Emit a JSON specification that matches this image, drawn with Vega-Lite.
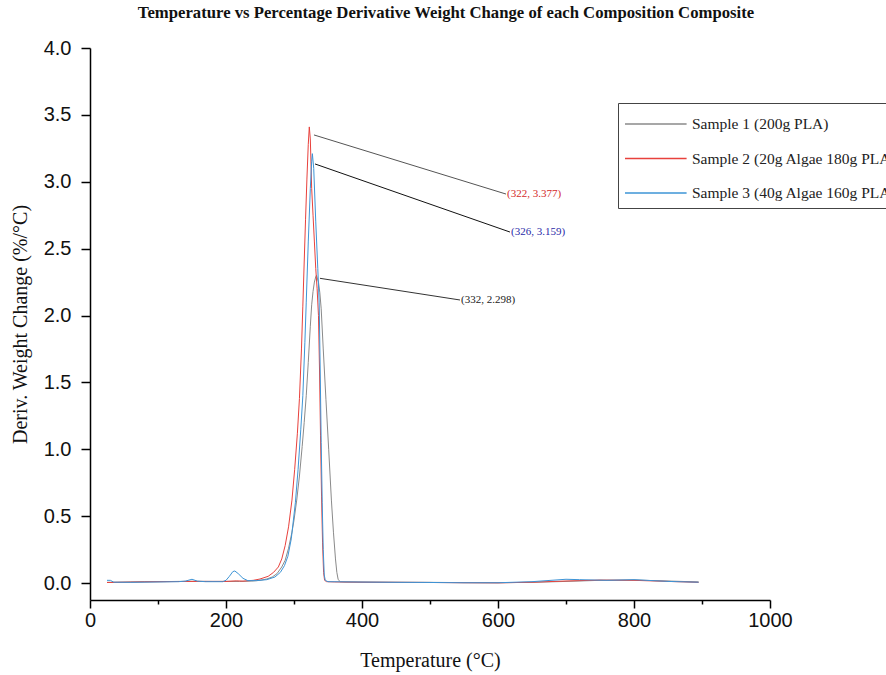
{
  "$schema": "https://vega.github.io/schema/vega-lite/v6.json",
  "autosize": {"type": "none"},
  "width": 680,
  "height": 552,
  "padding": {"left": 90, "top": 48, "right": 116, "bottom": 75},
  "background": "white",
  "config": {"view": {"stroke": null}},
  "title": {
    "text": "Temperature vs Percentage Derivative Weight Change of each Composition Composite",
    "font": "Liberation Serif", "fontWeight": "bold", "fontSize": 16.7, "color": "#111",
    "anchor": "middle", "frame": "group", "offset": 16, "dx": 16
  },
  "datasets": {
    "curves": [
      {"s": "Sample 1 (200g PLA)", "t": 25, "v": 0.005},
      {"s": "Sample 1 (200g PLA)", "t": 40, "v": 0.006},
      {"s": "Sample 1 (200g PLA)", "t": 60, "v": 0.008},
      {"s": "Sample 1 (200g PLA)", "t": 80, "v": 0.01},
      {"s": "Sample 1 (200g PLA)", "t": 100, "v": 0.01},
      {"s": "Sample 1 (200g PLA)", "t": 130, "v": 0.012},
      {"s": "Sample 1 (200g PLA)", "t": 150, "v": 0.013},
      {"s": "Sample 1 (200g PLA)", "t": 180, "v": 0.012},
      {"s": "Sample 1 (200g PLA)", "t": 200, "v": 0.012},
      {"s": "Sample 1 (200g PLA)", "t": 220, "v": 0.012},
      {"s": "Sample 1 (200g PLA)", "t": 240, "v": 0.015},
      {"s": "Sample 1 (200g PLA)", "t": 250, "v": 0.02},
      {"s": "Sample 1 (200g PLA)", "t": 260, "v": 0.03},
      {"s": "Sample 1 (200g PLA)", "t": 268, "v": 0.045},
      {"s": "Sample 1 (200g PLA)", "t": 275, "v": 0.07},
      {"s": "Sample 1 (200g PLA)", "t": 282, "v": 0.12},
      {"s": "Sample 1 (200g PLA)", "t": 287, "v": 0.17},
      {"s": "Sample 1 (200g PLA)", "t": 292, "v": 0.26},
      {"s": "Sample 1 (200g PLA)", "t": 297, "v": 0.38},
      {"s": "Sample 1 (200g PLA)", "t": 300, "v": 0.47},
      {"s": "Sample 1 (200g PLA)", "t": 304, "v": 0.62},
      {"s": "Sample 1 (200g PLA)", "t": 308, "v": 0.8},
      {"s": "Sample 1 (200g PLA)", "t": 312, "v": 1.02},
      {"s": "Sample 1 (200g PLA)", "t": 315, "v": 1.2},
      {"s": "Sample 1 (200g PLA)", "t": 318, "v": 1.4},
      {"s": "Sample 1 (200g PLA)", "t": 321, "v": 1.65},
      {"s": "Sample 1 (200g PLA)", "t": 324, "v": 1.92},
      {"s": "Sample 1 (200g PLA)", "t": 326, "v": 2.08},
      {"s": "Sample 1 (200g PLA)", "t": 328, "v": 2.18},
      {"s": "Sample 1 (200g PLA)", "t": 330, "v": 2.25},
      {"s": "Sample 1 (200g PLA)", "t": 332, "v": 2.29},
      {"s": "Sample 1 (200g PLA)", "t": 333, "v": 2.3},
      {"s": "Sample 1 (200g PLA)", "t": 336, "v": 2.25},
      {"s": "Sample 1 (200g PLA)", "t": 338, "v": 2.17},
      {"s": "Sample 1 (200g PLA)", "t": 340, "v": 2.05},
      {"s": "Sample 1 (200g PLA)", "t": 343, "v": 1.75},
      {"s": "Sample 1 (200g PLA)", "t": 347, "v": 1.37},
      {"s": "Sample 1 (200g PLA)", "t": 351, "v": 1.0},
      {"s": "Sample 1 (200g PLA)", "t": 355, "v": 0.62},
      {"s": "Sample 1 (200g PLA)", "t": 358, "v": 0.38},
      {"s": "Sample 1 (200g PLA)", "t": 361, "v": 0.18},
      {"s": "Sample 1 (200g PLA)", "t": 363, "v": 0.08},
      {"s": "Sample 1 (200g PLA)", "t": 365, "v": 0.025},
      {"s": "Sample 1 (200g PLA)", "t": 368, "v": 0.01},
      {"s": "Sample 1 (200g PLA)", "t": 375, "v": 0.008},
      {"s": "Sample 1 (200g PLA)", "t": 400, "v": 0.007},
      {"s": "Sample 1 (200g PLA)", "t": 450, "v": 0.006},
      {"s": "Sample 1 (200g PLA)", "t": 500, "v": 0.005},
      {"s": "Sample 1 (200g PLA)", "t": 550, "v": 0.003},
      {"s": "Sample 1 (200g PLA)", "t": 600, "v": 0.002},
      {"s": "Sample 1 (200g PLA)", "t": 650, "v": 0.005},
      {"s": "Sample 1 (200g PLA)", "t": 700, "v": 0.012},
      {"s": "Sample 1 (200g PLA)", "t": 750, "v": 0.02},
      {"s": "Sample 1 (200g PLA)", "t": 800, "v": 0.022},
      {"s": "Sample 1 (200g PLA)", "t": 850, "v": 0.015},
      {"s": "Sample 1 (200g PLA)", "t": 895, "v": 0.008},

      {"s": "Sample 2 (20g Algae 180g PLA)", "t": 25, "v": 0.004},
      {"s": "Sample 2 (20g Algae 180g PLA)", "t": 50, "v": 0.006},
      {"s": "Sample 2 (20g Algae 180g PLA)", "t": 100, "v": 0.01},
      {"s": "Sample 2 (20g Algae 180g PLA)", "t": 150, "v": 0.012},
      {"s": "Sample 2 (20g Algae 180g PLA)", "t": 200, "v": 0.012},
      {"s": "Sample 2 (20g Algae 180g PLA)", "t": 215, "v": 0.016},
      {"s": "Sample 2 (20g Algae 180g PLA)", "t": 225, "v": 0.014},
      {"s": "Sample 2 (20g Algae 180g PLA)", "t": 240, "v": 0.02},
      {"s": "Sample 2 (20g Algae 180g PLA)", "t": 250, "v": 0.03},
      {"s": "Sample 2 (20g Algae 180g PLA)", "t": 262, "v": 0.05},
      {"s": "Sample 2 (20g Algae 180g PLA)", "t": 270, "v": 0.08},
      {"s": "Sample 2 (20g Algae 180g PLA)", "t": 277, "v": 0.12},
      {"s": "Sample 2 (20g Algae 180g PLA)", "t": 282, "v": 0.18},
      {"s": "Sample 2 (20g Algae 180g PLA)", "t": 287, "v": 0.28},
      {"s": "Sample 2 (20g Algae 180g PLA)", "t": 292, "v": 0.42},
      {"s": "Sample 2 (20g Algae 180g PLA)", "t": 297, "v": 0.62},
      {"s": "Sample 2 (20g Algae 180g PLA)", "t": 301, "v": 0.85},
      {"s": "Sample 2 (20g Algae 180g PLA)", "t": 305, "v": 1.12},
      {"s": "Sample 2 (20g Algae 180g PLA)", "t": 308, "v": 1.38},
      {"s": "Sample 2 (20g Algae 180g PLA)", "t": 311, "v": 1.75},
      {"s": "Sample 2 (20g Algae 180g PLA)", "t": 313, "v": 2.07},
      {"s": "Sample 2 (20g Algae 180g PLA)", "t": 315, "v": 2.4},
      {"s": "Sample 2 (20g Algae 180g PLA)", "t": 317, "v": 2.72},
      {"s": "Sample 2 (20g Algae 180g PLA)", "t": 319, "v": 3.02},
      {"s": "Sample 2 (20g Algae 180g PLA)", "t": 321, "v": 3.28},
      {"s": "Sample 2 (20g Algae 180g PLA)", "t": 322.5, "v": 3.41},
      {"s": "Sample 2 (20g Algae 180g PLA)", "t": 324, "v": 3.32},
      {"s": "Sample 2 (20g Algae 180g PLA)", "t": 326, "v": 2.95},
      {"s": "Sample 2 (20g Algae 180g PLA)", "t": 328, "v": 2.75},
      {"s": "Sample 2 (20g Algae 180g PLA)", "t": 330, "v": 2.55},
      {"s": "Sample 2 (20g Algae 180g PLA)", "t": 332, "v": 2.35},
      {"s": "Sample 2 (20g Algae 180g PLA)", "t": 334, "v": 2.2},
      {"s": "Sample 2 (20g Algae 180g PLA)", "t": 336, "v": 2.0},
      {"s": "Sample 2 (20g Algae 180g PLA)", "t": 337.5, "v": 1.6},
      {"s": "Sample 2 (20g Algae 180g PLA)", "t": 339, "v": 1.1},
      {"s": "Sample 2 (20g Algae 180g PLA)", "t": 340.5, "v": 0.65},
      {"s": "Sample 2 (20g Algae 180g PLA)", "t": 342, "v": 0.3},
      {"s": "Sample 2 (20g Algae 180g PLA)", "t": 343.5, "v": 0.08},
      {"s": "Sample 2 (20g Algae 180g PLA)", "t": 345, "v": 0.02},
      {"s": "Sample 2 (20g Algae 180g PLA)", "t": 348, "v": 0.01},
      {"s": "Sample 2 (20g Algae 180g PLA)", "t": 360, "v": 0.008},
      {"s": "Sample 2 (20g Algae 180g PLA)", "t": 400, "v": 0.006},
      {"s": "Sample 2 (20g Algae 180g PLA)", "t": 450, "v": 0.005},
      {"s": "Sample 2 (20g Algae 180g PLA)", "t": 500, "v": 0.004},
      {"s": "Sample 2 (20g Algae 180g PLA)", "t": 550, "v": 0.002},
      {"s": "Sample 2 (20g Algae 180g PLA)", "t": 600, "v": 0.001},
      {"s": "Sample 2 (20g Algae 180g PLA)", "t": 650, "v": 0.006},
      {"s": "Sample 2 (20g Algae 180g PLA)", "t": 700, "v": 0.015},
      {"s": "Sample 2 (20g Algae 180g PLA)", "t": 750, "v": 0.022},
      {"s": "Sample 2 (20g Algae 180g PLA)", "t": 800, "v": 0.02},
      {"s": "Sample 2 (20g Algae 180g PLA)", "t": 850, "v": 0.012},
      {"s": "Sample 2 (20g Algae 180g PLA)", "t": 895, "v": 0.005},

      {"s": "Sample 3 (40g Algae 160g PLA)", "t": 25, "v": 0.02},
      {"s": "Sample 3 (40g Algae 160g PLA)", "t": 30, "v": 0.02},
      {"s": "Sample 3 (40g Algae 160g PLA)", "t": 35, "v": 0.006},
      {"s": "Sample 3 (40g Algae 160g PLA)", "t": 60, "v": 0.005},
      {"s": "Sample 3 (40g Algae 160g PLA)", "t": 100, "v": 0.008},
      {"s": "Sample 3 (40g Algae 160g PLA)", "t": 130, "v": 0.01},
      {"s": "Sample 3 (40g Algae 160g PLA)", "t": 140, "v": 0.014},
      {"s": "Sample 3 (40g Algae 160g PLA)", "t": 150, "v": 0.028},
      {"s": "Sample 3 (40g Algae 160g PLA)", "t": 158, "v": 0.014},
      {"s": "Sample 3 (40g Algae 160g PLA)", "t": 170, "v": 0.01},
      {"s": "Sample 3 (40g Algae 160g PLA)", "t": 195, "v": 0.01},
      {"s": "Sample 3 (40g Algae 160g PLA)", "t": 200, "v": 0.02},
      {"s": "Sample 3 (40g Algae 160g PLA)", "t": 205, "v": 0.05},
      {"s": "Sample 3 (40g Algae 160g PLA)", "t": 210, "v": 0.085},
      {"s": "Sample 3 (40g Algae 160g PLA)", "t": 213, "v": 0.09},
      {"s": "Sample 3 (40g Algae 160g PLA)", "t": 218, "v": 0.07},
      {"s": "Sample 3 (40g Algae 160g PLA)", "t": 225, "v": 0.035},
      {"s": "Sample 3 (40g Algae 160g PLA)", "t": 232, "v": 0.018},
      {"s": "Sample 3 (40g Algae 160g PLA)", "t": 245, "v": 0.018},
      {"s": "Sample 3 (40g Algae 160g PLA)", "t": 260, "v": 0.025},
      {"s": "Sample 3 (40g Algae 160g PLA)", "t": 272, "v": 0.045},
      {"s": "Sample 3 (40g Algae 160g PLA)", "t": 280, "v": 0.08},
      {"s": "Sample 3 (40g Algae 160g PLA)", "t": 286, "v": 0.13},
      {"s": "Sample 3 (40g Algae 160g PLA)", "t": 291, "v": 0.2},
      {"s": "Sample 3 (40g Algae 160g PLA)", "t": 296, "v": 0.33},
      {"s": "Sample 3 (40g Algae 160g PLA)", "t": 302, "v": 0.6},
      {"s": "Sample 3 (40g Algae 160g PLA)", "t": 306, "v": 0.85},
      {"s": "Sample 3 (40g Algae 160g PLA)", "t": 310, "v": 1.15},
      {"s": "Sample 3 (40g Algae 160g PLA)", "t": 313, "v": 1.4},
      {"s": "Sample 3 (40g Algae 160g PLA)", "t": 316, "v": 1.8},
      {"s": "Sample 3 (40g Algae 160g PLA)", "t": 318, "v": 2.1},
      {"s": "Sample 3 (40g Algae 160g PLA)", "t": 321, "v": 2.55},
      {"s": "Sample 3 (40g Algae 160g PLA)", "t": 324, "v": 2.95},
      {"s": "Sample 3 (40g Algae 160g PLA)", "t": 326, "v": 3.15},
      {"s": "Sample 3 (40g Algae 160g PLA)", "t": 327, "v": 3.21},
      {"s": "Sample 3 (40g Algae 160g PLA)", "t": 329, "v": 3.1},
      {"s": "Sample 3 (40g Algae 160g PLA)", "t": 332, "v": 2.7},
      {"s": "Sample 3 (40g Algae 160g PLA)", "t": 335, "v": 2.35},
      {"s": "Sample 3 (40g Algae 160g PLA)", "t": 337, "v": 2.1},
      {"s": "Sample 3 (40g Algae 160g PLA)", "t": 338.5, "v": 1.6},
      {"s": "Sample 3 (40g Algae 160g PLA)", "t": 340, "v": 1.05},
      {"s": "Sample 3 (40g Algae 160g PLA)", "t": 341.5, "v": 0.6},
      {"s": "Sample 3 (40g Algae 160g PLA)", "t": 343, "v": 0.25},
      {"s": "Sample 3 (40g Algae 160g PLA)", "t": 344.5, "v": 0.06},
      {"s": "Sample 3 (40g Algae 160g PLA)", "t": 346, "v": 0.02},
      {"s": "Sample 3 (40g Algae 160g PLA)", "t": 350, "v": 0.01},
      {"s": "Sample 3 (40g Algae 160g PLA)", "t": 400, "v": 0.007},
      {"s": "Sample 3 (40g Algae 160g PLA)", "t": 450, "v": 0.005},
      {"s": "Sample 3 (40g Algae 160g PLA)", "t": 500, "v": 0.004},
      {"s": "Sample 3 (40g Algae 160g PLA)", "t": 550, "v": 0.002},
      {"s": "Sample 3 (40g Algae 160g PLA)", "t": 600, "v": 0.002},
      {"s": "Sample 3 (40g Algae 160g PLA)", "t": 650, "v": 0.01},
      {"s": "Sample 3 (40g Algae 160g PLA)", "t": 700, "v": 0.028},
      {"s": "Sample 3 (40g Algae 160g PLA)", "t": 720, "v": 0.025},
      {"s": "Sample 3 (40g Algae 160g PLA)", "t": 760, "v": 0.02},
      {"s": "Sample 3 (40g Algae 160g PLA)", "t": 800, "v": 0.025},
      {"s": "Sample 3 (40g Algae 160g PLA)", "t": 850, "v": 0.012},
      {"s": "Sample 3 (40g Algae 160g PLA)", "t": 895, "v": 0.006}
    ],
    "notes": [
      {"k": "Sample 2", "x1": 329.4, "y1": 3.35, "x2": 611.8, "y2": 2.908, "label": "(322, 3.377)"},
      {"k": "Sample 3", "x1": 330.9, "y1": 3.133, "x2": 617.6, "y2": 2.624, "label": "(326, 3.159)"},
      {"k": "Sample 1", "x1": 338.2, "y1": 2.278, "x2": 544.1, "y2": 2.116, "label": "(332, 2.298)"}
    ]
  },
  "layer": [
    {
      "data": {"name": "curves"},
      "mark": {"type": "line", "strokeWidth": 1, "clip": true},
      "encoding": {
        "x": {
          "field": "t", "type": "quantitative",
          "scale": {"domain": [0, 1000], "nice": false, "zero": false},
          "axis": {
            "title": "Temperature (°C)",
            "titleFont": "Liberation Serif", "titleFontSize": 20, "titleFontWeight": "normal", "titleColor": "#111", "titlePadding": 20,
            "values": [0, 50, 100, 150, 200, 250, 300, 350, 400, 450, 500, 550, 600, 650, 700, 750, 800, 850, 900, 950, 1000],
            "labelExpr": "datum.value % 200 === 0 ? format(datum.value, 'd') : ''",
            "labelFont": "Liberation Sans", "labelFontSize": 20, "labelColor": "#111", "labelPadding": 2,
            "labelOverlap": false, "labelFlush": false,
            "tickSize": {"condition": {"test": "datum.value % 200 === 0", "value": 8}, "value": 4},
            "tickColor": "#000", "tickWidth": 1.5, "domainColor": "#000", "domainWidth": 1.5, "grid": false
          }
        },
        "y": {
          "field": "v", "type": "quantitative",
          "scale": {"domain": [-0.127, 4], "nice": false, "zero": false},
          "axis": {
            "title": "Deriv. Weight Change (%/°C)",
            "titleFont": "Liberation Serif", "titleFontSize": 20, "titleFontWeight": "normal", "titleColor": "#111", "titlePadding": 13,
            "values": [0, 0.25, 0.5, 0.75, 1, 1.25, 1.5, 1.75, 2, 2.25, 2.5, 2.75, 3, 3.25, 3.5, 3.75, 4],
            "labelExpr": "datum.value % 0.5 === 0 ? format(datum.value, '.1f') : ''",
            "labelFont": "Liberation Sans", "labelFontSize": 20, "labelColor": "#111", "labelPadding": 10,
            "labelOverlap": false, "labelFlush": false,
            "tickSize": {"condition": {"test": "datum.value % 0.5 === 0", "value": 9}, "value": 5},
            "tickColor": "#000", "tickWidth": 1.5, "domainColor": "#000", "domainWidth": 1.5, "grid": false
          }
        },
        "color": {
          "field": "s", "type": "nominal",
          "scale": {
            "domain": ["Sample 1 (200g PLA)", "Sample 2 (20g Algae 180g PLA)", "Sample 3 (40g Algae 160g PLA)"],
            "range": ["#8a8a8a", "#e8413c", "#3d94d6"]
          },
          "legend": {
            "title": null, "orient": "none", "legendX": 528, "legendY": 55,
            "symbolType": "M-1,0H3.4", "symbolSize": 784, "symbolStrokeWidth": 1.5,
            "rowPadding": 10.5, "padding": 6, "labelOffset": 38, "labelLimit": 400,
            "labelFont": "Liberation Serif", "labelFontSize": 15.5, "labelColor": "#222",
            "strokeColor": "#444", "fillColor": "white"
          }
        }
      }
    },
    {
      "data": {"name": "notes"},
      "mark": {"type": "rule"},
      "encoding": {
        "x": {"field": "x1", "type": "quantitative"},
        "y": {"field": "y1", "type": "quantitative"},
        "x2": {"field": "x2"},
        "y2": {"field": "y2"},
        "stroke": {
          "field": "k", "type": "nominal",
          "scale": {"domain": ["Sample 1", "Sample 2", "Sample 3"], "range": ["#333333", "#555555", "#111111"]},
          "legend": null
        },
        "strokeWidth": {
          "field": "k", "type": "nominal",
          "scale": {"domain": ["Sample 1", "Sample 2", "Sample 3"], "range": [1, 1, 1.8]},
          "legend": null
        }
      }
    },
    {
      "data": {"name": "notes"},
      "mark": {"type": "text", "align": "left", "baseline": "middle", "dx": 1, "font": "Liberation Serif", "fontSize": 11},
      "encoding": {
        "x": {"field": "x2", "type": "quantitative"},
        "y": {"field": "y2", "type": "quantitative"},
        "text": {"field": "label"},
        "fill": {
          "field": "k", "type": "nominal",
          "scale": {"domain": ["Sample 1", "Sample 2", "Sample 3"], "range": ["#222222", "#d42a2a", "#2a2aa8"]},
          "legend": null
        }
      }
    }
  ]
}
